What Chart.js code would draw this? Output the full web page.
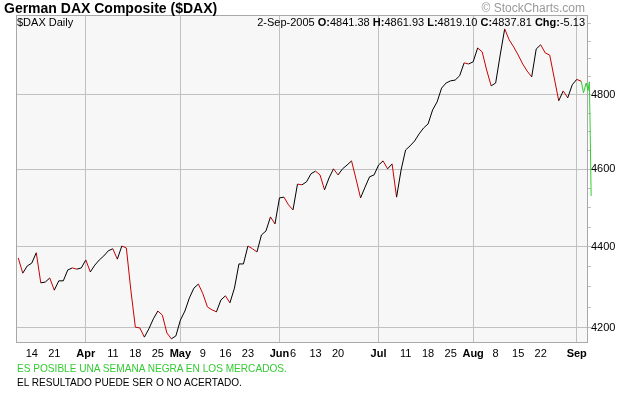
<!DOCTYPE html>
<html><head><meta charset="utf-8">
<script src="https://cdn.jsdelivr.net/npm/chart.js@4/dist/chart.umd.min.js"></script>
<style>
html,body{margin:0;padding:0;background:#fff;}
#wrap{position:relative;width:620px;height:400px;overflow:hidden;font-family:"Liberation Sans",Arial,sans-serif;}
canvas{position:absolute;left:0;top:0;}
.t{position:absolute;white-space:nowrap;line-height:1;}
</style></head><body>
<div id="wrap">
<canvas id="c" width="620" height="400"></canvas>
<div class="t" style="left:4px;top:1px;font-size:14px;font-weight:bold;">German DAX Composite ($DAX)</div>
<div class="t" style="right:35px;top:2px;font-size:12px;color:#999;">© StockCharts.com</div>
<div class="t" style="left:17px;top:17px;font-size:11px;">$DAX Daily</div>
<div class="t" style="right:35px;top:17px;font-size:11px;">2-Sep-2005 <b>O:</b>4841.38 <b>H:</b>4861.93 <b>L:</b>4819.10 <b>C:</b>4837.81 <b>Chg:</b>-5.13</div>
<div class="t" style="left:17px;top:364px;font-size:10.1px;color:#33cc33;">ES POSIBLE UNA SEMANA NEGRA EN LOS MERCADOS.</div>
<div class="t" style="left:17px;top:378px;font-size:10.1px;color:#000;">EL RESULTADO PUEDE SER O NO ACERTADO.</div>
</div>
<script>
// Trading days (Mar 9 – Sep 2, 2005)
const dates = [
 'Mar 9','Mar 10','Mar 11','Mar 14','Mar 15','Mar 16','Mar 17','Mar 18','Mar 21','Mar 22','Mar 23','Mar 24','Mar 29','Mar 30','Mar 31',
 'Apr 1','Apr 4','Apr 5','Apr 6','Apr 7','Apr 8','Apr 11','Apr 12','Apr 13','Apr 14','Apr 15','Apr 18','Apr 19','Apr 20','Apr 21','Apr 22','Apr 25','Apr 26','Apr 27','Apr 28','Apr 29',
 'May 2','May 3','May 4','May 5','May 6','May 9','May 10','May 11','May 12','May 13','May 16','May 17','May 18','May 19','May 20','May 23','May 24','May 25','May 26','May 27','May 30','May 31',
 'Jun 1','Jun 2','Jun 3','Jun 6','Jun 7','Jun 8','Jun 9','Jun 10','Jun 13','Jun 14','Jun 15','Jun 16','Jun 17','Jun 20','Jun 21','Jun 22','Jun 23','Jun 24','Jun 27','Jun 28','Jun 29','Jun 30',
 'Jul 1','Jul 4','Jul 5','Jul 6','Jul 7','Jul 8','Jul 11','Jul 12','Jul 13','Jul 14','Jul 15','Jul 18','Jul 19','Jul 20','Jul 21','Jul 22','Jul 25','Jul 26','Jul 27','Jul 28','Jul 29',
 'Aug 1','Aug 2','Aug 3','Aug 4','Aug 5','Aug 8','Aug 9','Aug 10','Aug 11','Aug 12','Aug 15','Aug 16','Aug 17','Aug 18','Aug 19','Aug 22','Aug 23','Aug 24','Aug 25','Aug 26','Aug 29','Aug 30','Aug 31',
 'Sep 1','Sep 2'
];
// Daily closes
const closes = [
 4372,4334,4352,4359,4385,4310,4312,4322,4292,4315,4315,4342,4347,4344,4347,
 4367,4337,4354,4367,4377,4390,4395,4369,4402,4397,4292,4202,4200,4178,4198,4222,4241,4231,4188,4174,4181,
 4219,4241,4273,4297,4307,4283,4251,4244,4239,4268,4278,4261,4297,4357,4357,4402,4395,4387,4430,4440,4476,4458,
 4525,4527,4507,4494,4561,4559,4567,4588,4595,4585,4546,4577,4601,4585,4601,4611,4622,4574,4525,4553,4580,4585,
 4611,4622,4601,4614,4527,4598,4651,4662,4675,4694,4710,4721,4759,4781,4819,4833,4839,4841,4853,4889,4886,
 4892,4931,4920,4869,4825,4833,4911,4985,4954,4934,4911,4886,4866,4850,4928,4940,4917,4911,4847,4784,4811,4792,4828,
 4842.94,4837.81
];
// Green hand-drawn forecast annotation (position in trading days, value)
const noteX = [125, 125.5, 126.1, 126.5, 126.8, 127.0, 127.2];
const noteY = [4837.81, 4806, 4833, 4812, 4836, 4690, 4530];

const tickDates  = ['Mar 14','Mar 21','Apr 1','Apr 11','Apr 18','Apr 25','May 2','May 9','May 16','May 23','Jun 1','Jun 6','Jun 13','Jun 20','Jul 1','Jul 11','Jul 18','Jul 25','Aug 1','Aug 8','Aug 15','Aug 22','Sep 1'];
const tickLabels = ['14','21','Apr','11','18','25','May','9','16','23','Jun','6','13','20','Jul','11','18','25','Aug','8','15','22','Sep'];
const monthStarts = ['Apr 1','May 2','Jun 1','Jul 1','Aug 1','Sep 1'];
const yTicks  = [4200,4250,4300,4350,4400,4450,4500,4550,4600,4650,4700,4750,4800,4850,4900,4950,5000];
const yLabels = [4200,4400,4600,4800];
const yMin = 4164, yMax = 5025;
const xMin = -0.5, xMax = dates.length + 0.5;

const idx = d => dates.indexOf(d);
const tickIdx = tickDates.map(idx);
const monthIdx = monthStarts.map(idx);
const GRID = '#c0c0c0';
const CLEAR = 'rgba(0,0,0,0)';
Chart.defaults.font.family = '"Liberation Sans", Arial, sans-serif';

const plotFrame = {
  id: 'plotFrame',
  beforeDraw(ch) {
    const {ctx, chartArea: a} = ch;
    ctx.save();
    ctx.fillStyle = '#f7f7f7';
    ctx.fillRect(a.left, a.top, a.right - a.left, a.bottom - a.top);
    ctx.restore();
  },
  beforeDatasetsDraw(ch) {
    const {ctx, chartArea: a} = ch;
    ctx.save();
    ctx.strokeStyle = '#a8a8a8';
    ctx.lineWidth = 1;
    ctx.strokeRect(a.left + 0.5, a.top + 0.5, a.right - a.left - 1, a.bottom - a.top - 1);
    ctx.restore();
  }
};

new Chart(document.getElementById('c'), {
  type: 'line',
  data: {
    datasets: [
      {
        data: closes.map((v, i) => ({x: i, y: v})),
        borderColor: '#000', borderWidth: 1, pointRadius: 0, tension: 0,
        segment: { borderColor: c => c.p1.parsed.y < c.p0.parsed.y ? '#cc0000' : '#000000' }
      },
      {
        data: noteX.map((x, i) => ({x: x, y: noteY[i]})),
        borderColor: '#33cc33', borderWidth: 1, pointRadius: 0, tension: 0, clip: false
      }
    ]
  },
  options: {
    responsive: false, animation: false, events: [],
    layout: { padding: { left: 16, top: 15, right: 0, bottom: 0 } },
    plugins: { legend: { display: false }, tooltip: { enabled: false } },
    scales: {
      x: {
        type: 'linear', bounds: 'data',
        afterDataLimits: s => { s.min = xMin; s.max = xMax; },
        afterBuildTicks: s => { s.ticks = tickIdx.map(v => ({value: v})); },
        afterFit: s => { s.height = 57; },
        border: { display: false },
        grid: { color: c => (c.tick && monthIdx.includes(c.tick.value)) ? GRID : CLEAR, drawTicks: false },
        ticks: {
          autoSkip: false, maxRotation: 0, padding: 4, color: '#000',
          font: c => ({ size: 11, weight: (c.tick && monthIdx.includes(c.tick.value)) ? 'bold' : 'normal' }),
          callback: v => { const k = tickIdx.indexOf(v); return k >= 0 ? tickLabels[k] : ''; }
        }
      },
      y: {
        type: 'logarithmic', position: 'right', min: yMin, max: yMax, bounds: 'data',
        afterBuildTicks: s => { s.ticks = yTicks.map(v => ({value: v})); },
        afterFit: s => { s.width = 32; },
        border: { display: false },
        grid: { color: c => (c.tick && yLabels.includes(c.tick.value)) ? GRID : CLEAR, tickColor: GRID, tickLength: 3 },
        ticks: { padding: 0, color: '#000', font: { size: 11 }, callback: v => yLabels.includes(v) ? String(v) : '' }
      }
    }
  },
  plugins: [plotFrame]
});
</script>
</body></html>
